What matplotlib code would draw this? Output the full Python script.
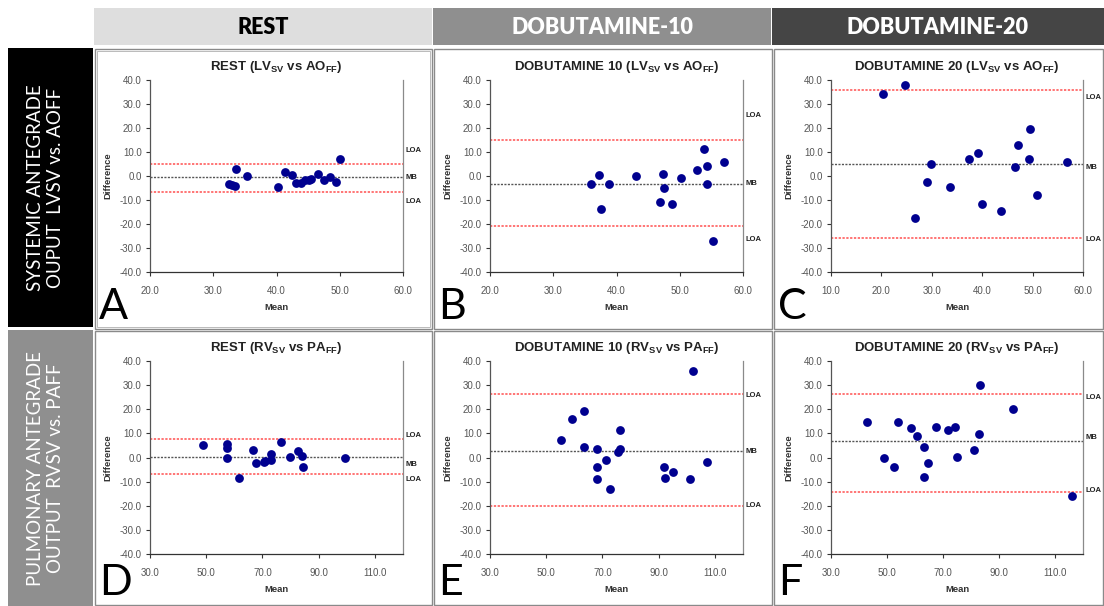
import matplotlib
matplotlib.use("Agg")
import matplotlib.pyplot as plt
from matplotlib.patches import Rectangle
from matplotlib.ticker import FormatStrFormatter
import matplotlib.transforms as mtrans

plt.rcParams['font.family'] = ['Liberation Sans', 'DejaVu Sans']
plt.rcParams['mathtext.fontset'] = 'custom'
plt.rcParams['mathtext.rm'] = 'Liberation Sans:bold'
plt.rcParams['mathtext.bf'] = 'Liberation Sans:bold'
plt.rcParams['mathtext.it'] = 'Liberation Sans:bold'

# ---------------- data ----------------
col_headers = ["REST", "DOBUTAMINE-10", "DOBUTAMINE-20"]
row_labels = ["SYSTEMIC ANTEGRADE\nOUPUT  LVSV vs. AOFF",
              "PULMONARY ANTEGRADE\nOUTPUT  RVSV vs. PAFF"]
panel_letters = ["A", "B", "C", "D", "E", "F"]
panel_titles = [r"REST (LV$_{SV}$ vs AO$_{FF}$)",
                r"DOBUTAMINE 10 (LV$_{SV}$ vs AO$_{FF}$)",
                r"DOBUTAMINE 20 (LV$_{SV}$ vs AO$_{FF}$)",
                r"REST (RV$_{SV}$ vs PA$_{FF}$)",
                r"DOBUTAMINE 10 (RV$_{SV}$ vs PA$_{FF}$)",
                r"DOBUTAMINE 20 (RV$_{SV}$ vs PA$_{FF}$)"]

a_mean = [32.5, 33.0, 33.5, 33.6, 35.4, 40.3, 41.4, 42.4, 43.1, 43.8, 44.5, 45.1, 45.4, 46.6, 47.5, 48.4, 49.4, 50.1]
a_diff = [-3.5, -3.9, -4.3, 2.9, 0.0, -4.5, 1.5, 0.6, -2.8, -2.8, -1.7, -1.5, -1.2, 1.0, -1.7, -0.3, -2.4, 7.2]
b_mean = [35.9, 37.2, 37.6, 38.8, 43.1, 46.8, 47.4, 47.5, 48.7, 50.2, 52.7, 53.8, 54.3, 54.3, 55.2, 57.0]
b_diff = [-3.5, 0.6, -13.7, -3.4, 0.2, -10.9, 1.0, -5.2, -11.6, -1.0, 2.4, 11.3, 4.0, -3.3, -27.0, 5.9]
c_mean = [20.4, 24.7, 26.6, 29.1, 29.8, 33.6, 37.3, 39.1, 39.9, 43.7, 46.6, 47.2, 49.2, 49.5, 50.8, 56.8]
c_diff = [34.0, 37.8, -17.7, -2.7, 4.8, -4.7, 7.1, 9.6, -11.7, -14.6, 3.7, 12.9, 6.9, 19.6, -7.9, 5.7]
d_mean = [48.8, 57.3, 57.3, 57.3, 61.6, 66.7, 67.8, 70.4, 71.0, 73.2, 73.2, 76.6, 79.8, 82.6, 83.9, 84.3, 99.4]
d_diff = [5.0, 5.5, 3.9, -0.3, -8.6, 3.2, -2.3, -1.8, -1.6, -0.9, 1.4, 6.3, 0.4, 2.9, 0.7, -4.0, -0.4]
e_mean = [55.1, 59.1, 63.5, 63.5, 68.0, 68.0, 68.2, 71.1, 72.7, 75.7, 76.3, 76.4, 91.8, 92.1, 95.0, 101.3, 102.2, 107.2]
e_diff = [7.3, 16.1, 19.3, 4.4, 3.6, -4.0, -8.8, -1.1, -13.1, 2.1, 11.6, 3.6, -3.9, -8.6, -5.9, -9.1, 35.7, -1.9]
f_mean = [42.9, 48.9, 52.4, 53.8, 58.6, 60.8, 63.3, 63.1, 64.8, 67.4, 71.9, 74.3, 75.0, 81.1, 82.7, 83.1, 94.9, 116.1]
f_diff = [14.9, -0.1, -4.0, 14.9, 12.1, 9.0, 4.4, -7.9, -2.2, 12.6, 11.2, 12.6, 0.4, 3.0, 9.7, 29.9, 20.3, -16.1]

means = [a_mean, b_mean, c_mean, d_mean, e_mean, f_mean]
diffs = [a_diff, b_diff, c_diff, d_diff, e_diff, f_diff]

upper_loa = [5.1, 14.8, 36.0, 7.7, 26.3, 26.3]
mean_bias = [-0.5, -3.3, 5.2, 0.3, 2.6, 7.0]
lower_loa = [-6.5, -21.0, -25.7, -7.0, -20.0, -14.2]
# y positions (data units) of the LOA / MB / LOA text labels
upper_lbl_y = [10.8, 25.4, 32.9, 9.2, 25.5, 24.8]
mb_lbl_y = [-0.5, -3.3, 3.7, -3.0, 2.6, 8.1]
lower_lbl_y = [-10.5, -26.5, -26.3, -9.2, -19.7, -13.5]

x_limits = [(20, 60), (20, 60), (10, 60), (30, 120), (30, 120), (30, 120)]
x_ticks = [[20, 30, 40, 50, 60], [20, 30, 40, 50, 60], [10, 20, 30, 40, 50, 60],
           [30, 50, 70, 90, 110], [30, 50, 70, 90, 110], [30, 50, 70, 90, 110]]
y_ticks = [-40, -30, -20, -10, 0, 10, 20, 30, 40]

# ---------------- layout ----------------
W, H = 1104, 606
fig = plt.figure(figsize=(W / 100, H / 100), dpi=100)


def rect_px(x0, y0, x1, y1, **kw):
    r = Rectangle((x0 / W, 1 - y1 / H), (x1 - x0) / W, (y1 - y0) / H,
                  transform=fig.transFigure, **kw)
    fig.add_artist(r)


# column headers
hdr_cols = [(94, 432, '#dedede', 'black'), (433, 771, '#8f8f8f', 'white'),
            (772, 1104, '#454545', 'white')]
for (x0, x1, bg, fg), txt in zip(hdr_cols, col_headers):
    rect_px(x0, 8, x1, 45, facecolor=bg, edgecolor='none')
    fig.text((x0 + x1) / 2 / W, 1 - 28 / H, txt, ha='center', va='center',
             color=fg, fontsize=15.5, fontweight='heavy', family='Lato')

# row labels
row_boxes = [(8, 93, 48, 327, 'black'), (8, 93, 330, 606, '#8f8f8f')]
for (x0, x1, y0, y1, bg), txt in zip(row_boxes, row_labels):
    rect_px(x0, y0, x1, y1, facecolor=bg, edgecolor='none')
    fig.text((x0 + x1 - 10) / 2 / W, 1 - (y0 + y1) / 2 / H, txt, ha='center',
             va='center', rotation=90, color='white', fontsize=13.5,
             family='Lato', multialignment='center', linespacing=1.25)

# panel frames
panel_x = [(95, 432), (434, 772), (774, 1103)]
panel_y = [(49, 329), (331, 605)]
for (y0, y1) in panel_y:
    for (x0, x1) in panel_x:
        rect_px(x0, y0, x1, y1, facecolor='none', edgecolor='#8a8a8a', lw=1.0)
rect_px(97, 51, 430, 327, facecolor='none', edgecolor='#b0b0b0', lw=0.6)

axes_x = [(150, 403), (490, 743), (831, 1083)]
axes_y = [(80, 272), (361, 554)]

for i in range(6):
    r, c = divmod(i, 3)
    L, R = axes_x[c]
    T, B = axes_y[r]
    ax = fig.add_axes([L / W, 1 - B / H, (R - L) / W, (B - T) / H])
    ax.scatter(means[i], diffs[i], s=40, color='#00008f', zorder=3, linewidths=0)
    ax.axhline(upper_loa[i], color='#ff5050', lw=1.1, ls=(0, (1.5, 1.0)), zorder=2)
    ax.axhline(lower_loa[i], color='#ff5050', lw=1.1, ls=(0, (1.5, 1.0)), zorder=2)
    ax.axhline(mean_bias[i], color='#555555', lw=1.0, ls=(0, (1.5, 1.0)), zorder=2)
    ax.set_xlim(*x_limits[i])
    ax.set_ylim(-40, 40)
    ax.set_xticks(x_ticks[i])
    ax.set_yticks(y_ticks)
    ax.xaxis.set_major_formatter(FormatStrFormatter('%.1f'))
    ax.yaxis.set_major_formatter(FormatStrFormatter('%.1f'))
    ax.tick_params(axis='both', labelsize=7, labelcolor='#555555', length=3,
                   width=0.8, color='#333333', direction='out', pad=3)
    ax.tick_params(axis='x', pad=7)
    ax.spines['top'].set_visible(False)
    ax.spines['right'].set_color('#8a8a8a')
    ax.spines['left'].set_color('#555555')
    ax.spines['bottom'].set_color('#333333')
    for s in ax.spines.values():
        s.set_linewidth(0.9)
    ax.set_xlabel('Mean', fontsize=6.8, fontweight='bold', color='#333333', labelpad=5)
    ax.set_ylabel('Difference', fontsize=6.8, fontweight='bold', color='#333333', labelpad=5)
    ax.text(0.5, 1 + 13 / (B - T), panel_titles[i], transform=ax.transAxes,
            ha='center', va='center', fontsize=9.5, fontweight='bold', color='#222222')
    tr = mtrans.blended_transform_factory(ax.transAxes, ax.transData)
    for yy, lab in [(upper_lbl_y[i], 'LOA'), (mb_lbl_y[i], 'MB'), (lower_lbl_y[i], 'LOA')]:
        ax.text(1 + 3 / (R - L), yy, lab, transform=tr, ha='left', va='center',
                fontsize=5.5, fontweight='bold', color='#222222')
    # panel letter
    px0 = panel_x[c][0]
    py1 = panel_y[r][1]
    fig.text((px0 + 4) / W, 1 - (py1 - 10) / H, panel_letters[i], ha='left',
             va='baseline', fontsize=31, family='Lato', color='black')

fig.savefig('out.png', dpi=100)
